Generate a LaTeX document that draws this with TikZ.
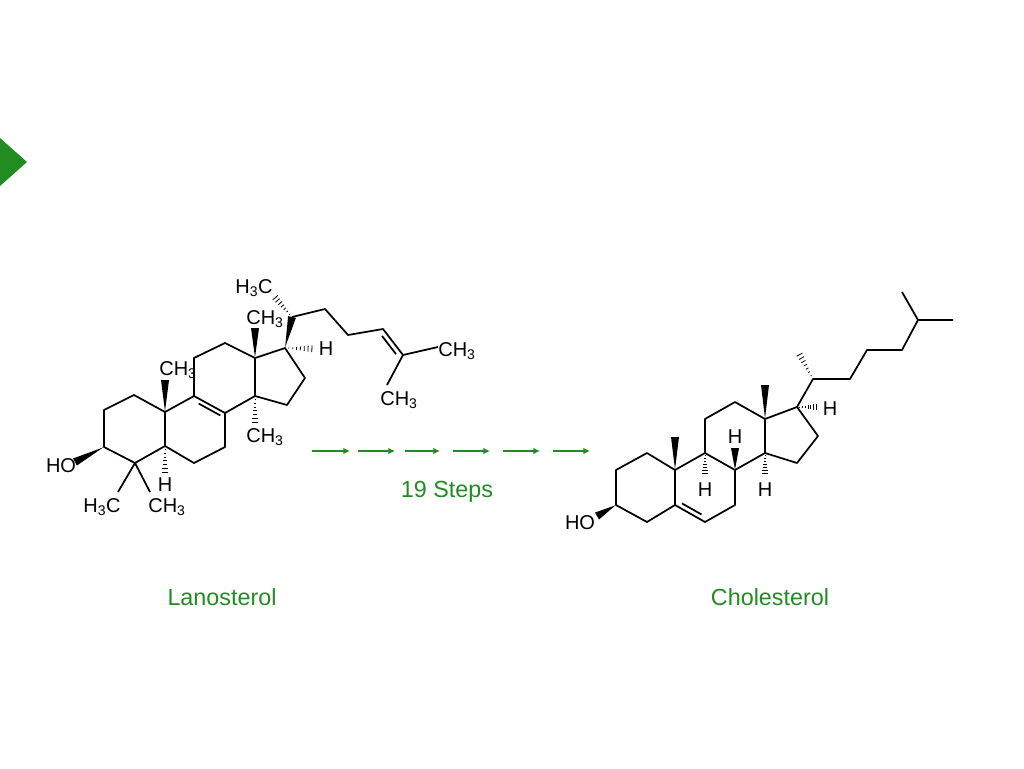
\documentclass[tikz,border=0pt]{standalone}
\usepackage{fontspec}
\setmainfont{Liberation Sans}
\usetikzlibrary{calc,arrows.meta}
\definecolor{grn}{RGB}{34,139,34}
\newcommand\wdg[2]{\fill ($(#1)!0.02!(#2)$) -- ($(#2)!3pt!90:(#1)$) -- ($(#2)!3pt!-90:(#1)$) -- cycle;}
\newcommand\hsh[2]{\foreach \t in {0.12,0.24,...,0.96}{\path ($(#1)!\t!(#2)$) coordinate (hp);
  \draw[line width=0.6pt] ($(hp)!\t*3pt!90:(#2)$) -- ($(hp)!\t*3pt!-90:(#2)$);}}
\tikzset{bond/.style={line width=1.3pt,line join=round},
 atom/.style={font=\fontsize{15}{15}\selectfont,inner sep=0pt},
 lbl/.style={font=\fontsize{17.5}{17.5}\selectfont,text=grn}}
\begin{document}
\begin{tikzpicture}[x=0.75pt,y=-0.75pt]
\useasboundingbox (0,0) rectangle (1024,768);
\fill[grn] (0,138) -- (27,162) -- (0,186) -- cycle;
% Lanosterol
\foreach \n/\p in {a1/{134,395},a2/{104,410},a3/{104,447},a4/{135,463},a5/{165,446},a10/{165,412},
 a9/{194,396},a8/{225,413},a7/{225,447},a6/{194,463},a11/{194,358},a12/{225,343},a13/{255,358},a14/{255,396},
 a17/{285,348},a16/{305,378},a15/{287,405},a18/{255,328},a19/{165,380},a30/{255,427},a5h/{165,477},
 aO/{75,462},a28/{118,492},a29/{150,492},a17h/{317,349},a20/{292,317},a21/{272,294},a22/{325,309},
 a23/{348,335},a24/{383,329},a25/{403,355},a26/{438,347},a27/{387,385}}
 \coordinate (\n) at (\p);
\draw[bond] (a10)--(a1)--(a2)--(a3)--(a4)--(a5)--(a10)--(a9)--(a8)--(a7)--(a6)--(a5)
 (a9)--(a11)--(a12)--(a13)--(a14)--(a8) (a13)--(a17)--(a16)--(a15)--(a14)
 (a4)--(a28) (a4)--(a29) (a20)--(a22)--(a23)--(a24)--(a25)--(a26) (a25)--(a27);
\draw[bond] ($(a9)!0.15!(a8)+(0,5)$) -- ($(a9)!0.85!(a8)+(0,5)$);
\draw[bond] ($(a24)!0.15!(a25)+(-4,3)$) -- ($(a24)!0.85!(a25)+(-4,3)$);
\wdg{a13}{a18}\wdg{a10}{a19}\wdg{a3}{aO}\wdg{a17}{a20}
\hsh{a14}{a30}\hsh{a5}{a5h}\hsh{a17}{a17h}\hsh{a20}{a21}
\node[atom] (t1) at (178,370) {CH\textsubscript{3}};
\node[atom] (t2) at (265,319) {CH\textsubscript{3}};
\node[atom] (t3) at (265,437) {CH\textsubscript{3}};
\node[atom] (t4) at (165,485) {H};
\node[atom] (t5) at (61,466) {HO};
\node[atom] (t6) at (102,507) {H\textsubscript{3}C};
\node[atom] (t7) at (167,507) {CH\textsubscript{3}};
\node[atom] (t8) at (326,349) {H};
\node[atom] (t9) at (254,288) {H\textsubscript{3}C};
\node[atom] (t10) at (457,351) {CH\textsubscript{3}};
\node[atom] (t11) at (399,400) {CH\textsubscript{3}};
% Cholesterol
\foreach \n/\p in {b1/{647,453},b2/{616,470},b3/{616,505},b4/{647,522},b5/{675,505},b10/{675,470},
 b6/{705,522},b7/{735,505},b8/{735,470},b9/{705,453},b11/{705,419},b12/{735,402},b13/{765,419},b14/{765,453},
 b17/{797,407},b16/{818,436},b15/{797,463},b19/{675,437},b18/{765,385},b9h/{705,477},b8h/{735,448},
 b14h/{765,477},b17h/{820,407},b20/{813,379},b21/{797,350},b22/{850,379},b23/{867,350},b24/{902,350},
 b25/{918,320},b26/{953,320},b27/{902,292},bO/{597,516}}
 \coordinate (\n) at (\p);
\draw[bond] (b10)--(b1)--(b2)--(b3)--(b4)--(b5)--(b10)--(b9)--(b8)--(b7)--(b6)--(b5)
 (b9)--(b11)--(b12)--(b13)--(b14)--(b8) (b13)--(b17)--(b16)--(b15)--(b14)
 (b17)--(b20)--(b22)--(b23)--(b24)--(b25)--(b26) (b25)--(b27);
\draw[bond] ($(b5)!0.2!(b6)+(1,-5)$) -- ($(b5)!0.85!(b6)+(1,-5)$);
\wdg{b10}{b19}\wdg{b13}{b18}\wdg{b8}{b8h}\wdg{b3}{bO}
\hsh{b9}{b9h}\hsh{b14}{b14h}\hsh{b17}{b17h}\hsh{b20}{b21}
\node[atom] (u1) at (705,490) {H};
\node[atom] (u2) at (735,437) {H};
\node[atom] (u3) at (765,490) {H};
\node[atom] (u4) at (830,409) {H};
\node[atom] (u5) at (580,523) {HO};
% arrows
\foreach \xa/\xb [count=\i] in {312/350,358/395,405/440,453/490,503/540,553/590}{
 \coordinate (s\i) at (\xa,451); \coordinate (e\i) at (\xb,451);
 \draw[grn,line width=1.5pt,-{Latex[length=5pt,width=5pt]}] (s\i) -- (e\i);}
\node[lbl] (st) at (447,492) {19 Steps};
\node[lbl] (ln) at (222,597) {Lanosterol};
\node[lbl] (ch) at (770,597) {Cholesterol};
\end{tikzpicture}
\end{document}
